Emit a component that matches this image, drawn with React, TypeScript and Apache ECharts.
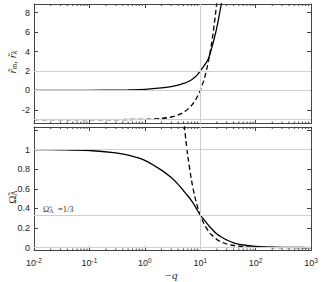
import React, { useEffect, useRef } from "react";
import * as echarts from "echarts";

// ---- data ----
const qRm = [0.01, 0.1, 0.3, 0.5, 1, 2, 3, 4, 5, 6, 7, 8, 9, 10, 12, 14, 16, 18, 20, 22, 24, 26];
const rm = [0, 0.01, 0.035, 0.06, 0.12, 0.26, 0.4, 0.55, 0.72, 0.9, 1.1, 1.35, 1.65, 2.0, 2.6, 3.25, 4.3, 5.4, 6.5, 7.7, 8.9, 10.2];

const qRk = [0.01, 0.1, 1, 2, 3, 4, 5, 6, 7, 8, 9, 10, 11, 12, 13, 14, 15, 16, 17, 18, 19, 20, 21];
const rk = [-3, -3, -2.97, -2.88, -2.73, -2.52, -2.25, -1.92, -1.53, -1.08, -0.57, 0, 0.63, 1.32, 2.1, 2.95, 3.85, 4.8, 5.8, 6.9, 8.0, 9.1, 10.3];

const qOm = [0.01, 0.03, 0.1, 0.3, 0.5, 1, 2, 3, 4, 5, 6, 7, 8, 10, 12, 15, 20, 25, 30, 40, 60, 100, 200, 500, 1000];
const om = [1.0, 0.998, 0.99, 0.966, 0.943, 0.89, 0.79, 0.714, 0.645, 0.58, 0.526, 0.476, 0.426, 0.333, 0.278, 0.21, 0.138, 0.103, 0.078, 0.048, 0.026, 0.012, 0.004, 0.001, 0.0003];

const qOk = [5, 5.5, 6, 7, 8, 9, 10, 11, 12, 14, 16, 20, 25, 30, 40, 60, 100, 200, 500, 1000];
const ok = [1.33, 1.1, 0.925, 0.68, 0.52, 0.41, 0.333, 0.275, 0.231, 0.17, 0.13, 0.083, 0.053, 0.037, 0.021, 0.0093, 0.0033, 0.0008, 0.00013, 0.00003];

const topRefY = [2, 0, -3];
const botRefY = [1, 1 / 3, 0];
const refX = [10];

const xMin = 0.01, xMax = 1000;
const topMin = -3.4, topMax = 8.9;
const botMin = -0.03, botMax = 1.23;

const minorQ: number[] = [];
for (let e = -2; e < 3; e++) for (let k = 2; k <= 9; k++) minorQ.push(k * Math.pow(10, e));

const AX = "#444";
const FONT = "Liberation Sans";
const SERIF = "Liberation Serif";

export default function App() {
  const ref = useRef<HTMLDivElement>(null);
  useEffect(() => {
    const chart = echarts.init(ref.current!, null, { renderer: "svg" });
    const axisLine = { show: true, onZero: false, lineStyle: { color: AX, width: 1 } };
    const tick = { show: true, inside: true, length: 4, lineStyle: { color: AX, width: 1 } };
    const logX = (grid: number, pos: string, labels: boolean) => ({
      type: "log", gridIndex: grid, position: pos, min: xMin, max: xMax, logBase: 10, splitNumber: 5,
      axisLine, axisTick: tick, splitLine: { show: false },
      axisLabel: labels ? {
        show: true, margin: 6, color: "#222", fontFamily: FONT, fontSize: 9,
        formatter: (v: number) => { const e = Math.round(Math.log10(v)); return "10{s|" + e + "}"; },
        rich: { s: { fontSize: 6.5, fontFamily: FONT, color: "#222", padding: [0, 0, 6, 0] } },
      } : { show: false },
    });
    const valY = (grid: number, pos: string, min: number, max: number, labels: boolean) => ({
      type: "value", gridIndex: grid, position: pos, min, max, splitNumber: 6,
      axisLine, axisTick: tick, splitLine: { show: false },
      axisLabel: labels ? {
        show: true, margin: 4, color: "#222", fontFamily: FONT, fontSize: 9, showMinLabel: false, showMaxLabel: false,
        formatter: (v: number) => (grid === 1 && v > 1.05 ? "" : String(Math.round(v * 100) / 100)),
      } : { show: false },
    });
    const minorSeries = (xi: number, yi: number, ymin: number, ymax: number) => ({
      type: "custom", xAxisIndex: xi, yAxisIndex: yi, silent: true, clip: false, z: 5,
      data: minorQ.map((q) => [q, ymin]),
      encode: { x: 0, y: 1 },
      renderItem: (_p: any, api: any) => {
        const q = api.value(0);
        const b = api.coord([q, ymin]);
        const t = api.coord([q, ymax]);
        const st = { stroke: AX, lineWidth: 1 };
        return { type: "group", children: [
          { type: "line", shape: { x1: b[0], y1: b[1], x2: b[0], y2: b[1] - 2 }, style: st },
          { type: "line", shape: { x1: t[0], y1: t[1], x2: t[0], y2: t[1] + 2 }, style: st },
        ] };
      },
    });
    const refSeries = (xi: number, yi: number, ys: number[]) => ({
      type: "line", xAxisIndex: xi, yAxisIndex: yi, data: [], z: 1, silent: true,
      markLine: {
        silent: true, symbol: "none", animation: false, label: { show: false },
        lineStyle: { color: "#cfcfcf", type: "solid", width: 1 },
        data: [...ys.map((y) => ({ yAxis: y })), ...refX.map((x) => ({ xAxis: x }))],
      },
    });
    const curve = (xi: number, yi: number, xs: number[], ys: number[], dashed: boolean) => ({
      type: "line", xAxisIndex: xi, yAxisIndex: yi, showSymbol: false, smooth: 0.3, z: 3,
      data: xs.map((x, i) => [x, ys[i]]),
      lineStyle: { color: "#000", width: 1.3, type: dashed ? [5, 3] : "solid" },
    });
    chart.setOption({
      animation: false,
      grid: [
        { left: 34, right: 11, top: 4, height: 119.5 },
        { left: 34, right: 11, top: 127, height: 123.5 },
      ],
      xAxis: [logX(0, "bottom", false), logX(0, "top", false), logX(1, "bottom", true), logX(1, "top", false)],
      yAxis: [valY(0, "left", topMin, topMax, true), valY(0, "right", topMin, topMax, false),
              valY(1, "left", botMin, botMax, true), valY(1, "right", botMin, botMax, false)],
      series: [
        refSeries(0, 0, topRefY),
        refSeries(2, 2, botRefY),
        curve(0, 0, qRm, rm, false),
        curve(0, 0, qRk, rk, true),
        curve(2, 2, qOm, om, false),
        curve(2, 2, qOk, ok, true),
        minorSeries(0, 0, topMin, topMax),
        minorSeries(2, 2, botMin, botMax),
      ],
      graphic: [
        { type: "text", x: 12, y: 62, rotation: Math.PI / 2,
          style: { text: "{i|r\u0303}{s|m}{i|, r\u0303}{s|k}", align: "center", verticalAlign: "middle",
            rich: { i: { fontFamily: SERIF, fontStyle: "italic", fontSize: 11, fill: "#222" },
                    s: { fontFamily: SERIF, fontStyle: "italic", fontSize: 7.5, fill: "#222", padding: [5, 0, 0, 0] } } } },
        { type: "text", x: 12, y: 197, rotation: Math.PI / 2,
          style: { text: "{i|\u03A9\u0303}{s|\u039B}", align: "center", verticalAlign: "middle",
            rich: { i: { fontFamily: SERIF, fontSize: 11, fill: "#222" },
                    s: { fontFamily: SERIF, fontSize: 7.5, fill: "#222", padding: [5, 0, 0, 0] } } } },
        { type: "text", x: 43, y: 209,
          style: { text: "{i|\u03A9\u0303}{s|\u039B}{t|  =1/3}", align: "left", verticalAlign: "middle",
            rich: { i: { fontFamily: SERIF, fontSize: 8.5, fill: "#333" },
                    s: { fontFamily: SERIF, fontSize: 6, fill: "#333", padding: [4, 0, 0, 0] },
                    t: { fontFamily: SERIF, fontSize: 8.5, fill: "#333" } } } },
        { type: "text", x: 171, y: 275,
          style: { text: "\u2212q", align: "center", verticalAlign: "middle",
            fontFamily: SERIF, fontStyle: "italic", fontSize: 11, fill: "#222" } },
      ],
    });
    return () => chart.dispose();
  }, []);
  return <div ref={ref} style={{ position: "absolute", left: 0, top: 0, width: 322, height: 282 }} />;
}
